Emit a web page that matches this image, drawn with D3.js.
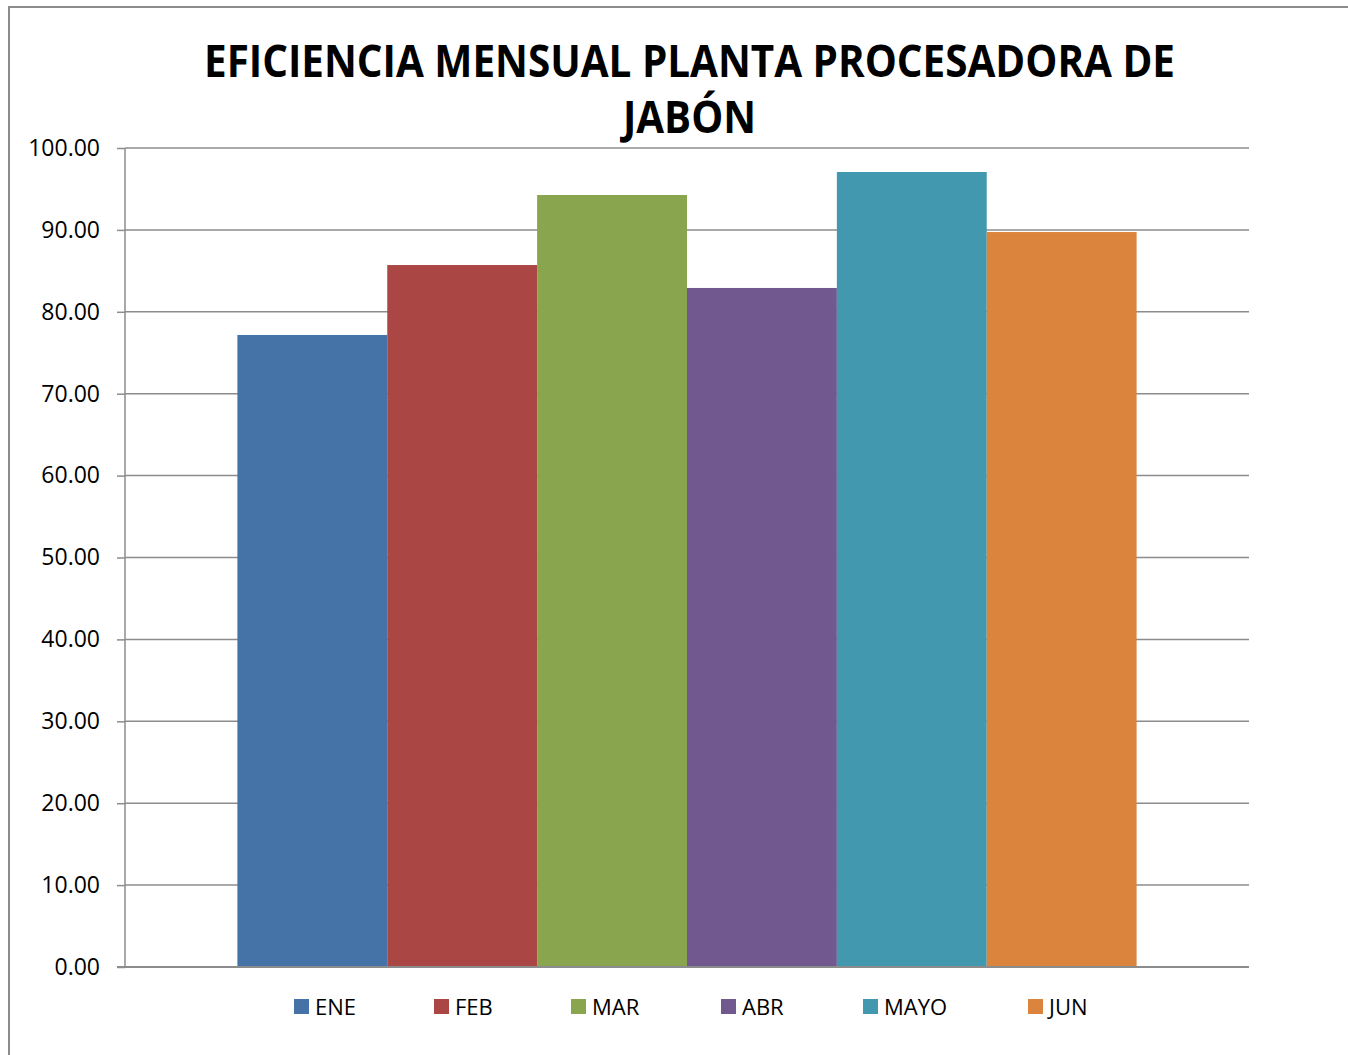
<!DOCTYPE html>
<html>
<head>
<meta charset="utf-8">
<script src="https://cdn.jsdelivr.net/npm/d3@7"></script>
<style>
  body { margin: 0; background: #fff; }
  svg { display: block; font-family: "Open Sans", "Liberation Sans", sans-serif; }
</style>
</head>
<body>
<svg id="chart" width="1348" height="1055"></svg>
<script>
// data
const months = ["ENE", "FEB", "MAR", "ABR", "MAYO", "JUN"];
const efficiency = [77.17, 85.71, 94.26, 82.91, 97.07, 89.74];
const colors = ["#4572A7", "#AA4643", "#89A54E", "#71588F", "#4198AF", "#DB843D"];
const yTicks = [0, 10, 20, 30, 40, 50, 60, 70, 80, 90, 100];
const titleLines = ["EFICIENCIA MENSUAL PLANTA PROCESADORA DE", "JABÓN"];

const svg = d3.select("#chart");

// outer chart frame (runs off right and bottom edges)
svg.append("rect")
  .attr("x", 9).attr("y", 7)
  .attr("width", 1400).attr("height", 1100)
  .attr("fill", "#fff")
  .attr("stroke", "#8c8c8c").attr("stroke-width", 2);

const plot = { left: 125, right: 1249, top: 148, bottom: 967 };

const y = d3.scaleLinear().domain([0, 100]).range([plot.bottom, plot.top]);

// a single category holding the six month series (Excel gap width 150%)
const xGroup = d3.scaleBand().domain(["g"])
  .range([plot.left, plot.right]).paddingInner(0).paddingOuter(0.125);
const x = d3.scaleBand().domain(months)
  .range([xGroup("g"), xGroup("g") + xGroup.bandwidth()]).padding(0);

// gridlines
svg.append("g")
  .selectAll("line").data(yTicks.filter(d => d > 0)).join("line")
  .attr("x1", plot.left).attr("x2", plot.right)
  .attr("y1", d => y(d)).attr("y2", d => y(d))
  .attr("stroke", "#8c8c8c").attr("stroke-width", 1.5);

// bars
svg.append("g")
  .selectAll("rect").data(months).join("rect")
  .attr("x", d => x(d))
  .attr("width", x.bandwidth())
  .attr("y", (d, i) => y(efficiency[i]))
  .attr("height", (d, i) => y(0) - y(efficiency[i]))
  .attr("fill", (d, i) => colors[i]);

// y axis
const yAxis = svg.append("g")
  .attr("transform", `translate(${plot.left},0)`)
  .call(d3.axisLeft(y).tickValues(yTicks).tickFormat(d3.format(".2f"))
    .tickSize(8).tickPadding(17));
yAxis.select(".domain").attr("stroke", "#8c8c8c").attr("stroke-width", 1.5)
  .attr("d", `M0,${plot.top}V${plot.bottom}`);
yAxis.selectAll(".tick line").attr("stroke", "#8c8c8c").attr("stroke-width", 1.5);
yAxis.selectAll(".tick text")
  .attr("fill", "#000")
  .style("font-size", "23px")
  .style("font-family", "'Open Sans', sans-serif");

// x axis baseline
svg.append("line")
  .attr("x1", plot.left - 8).attr("x2", plot.right)
  .attr("y1", y(0)).attr("y2", y(0))
  .attr("stroke", "#8c8c8c").attr("stroke-width", 2);

// title
svg.append("g")
  .selectAll("text").data(titleLines).join("text")
  .attr("x", 689.5)
  .attr("y", (d, i) => 77 + i * 56)
  .attr("text-anchor", "middle")
  .attr("font-weight", "bold")
  .attr("font-size", 45)
  .attr("textLength", (d, i) => i === 0 ? 971 : 133)
  .attr("lengthAdjust", "spacingAndGlyphs")
  .text(d => d);

// legend
const legendX = [294, 434, 571, 721, 863, 1028];
const legend = svg.append("g")
  .selectAll("g").data(months).join("g")
  .attr("transform", (d, i) => `translate(${legendX[i]},999)`);
legend.append("rect")
  .attr("width", 15).attr("height", 15)
  .attr("fill", (d, i) => colors[i]);
legend.append("text")
  .attr("x", 21).attr("y", 15.5)
  .attr("font-size", 22)
  .attr("fill", "#000")
  .text(d => d);
</script>
</body>
</html>
